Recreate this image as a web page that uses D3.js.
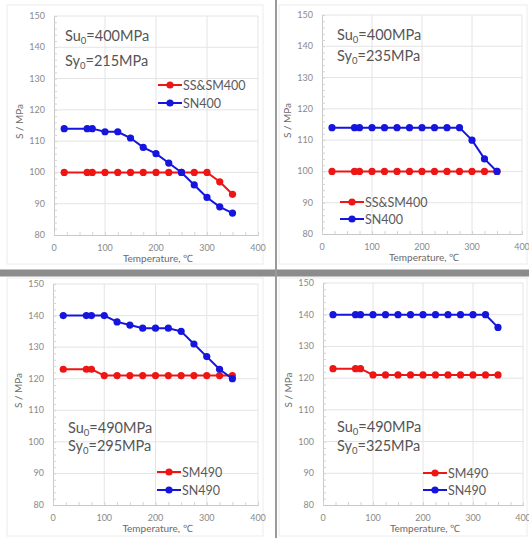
<!DOCTYPE html>
<html>
<head>
<meta charset="utf-8">
<script src="https://cdn.jsdelivr.net/npm/d3@7"></script>
<style>
  body { margin: 0; background: #fff; }
  svg text { font-family: Lato, "Open Sans", sans-serif; }
</style>
</head>
<body>
<div class="chart"></div>
<script>
// canvas size
const WIDTH = 529;
const HEIGHT = 538;

// temperatures (x values) shared by every series
const temps = [20, 65, 75, 100, 125, 150, 175, 200, 225, 250, 275, 300, 325, 350];

// series values, one array per line
const ss400_215 = [100, 100, 100, 100, 100, 100, 100, 100, 100, 100, 100, 100, 97, 93];
const sn400_215 = [114, 114, 114, 113, 113, 111, 108, 106, 103, 100, 96, 92, 89, 87];
const ss400_235 = [100, 100, 100, 100, 100, 100, 100, 100, 100, 100, 100, 100, 100, 100];
const sn400_235 = [114, 114, 114, 114, 114, 114, 114, 114, 114, 114, 114, 110, 104, 100];
const sm490_295 = [123, 123, 123, 121, 121, 121, 121, 121, 121, 121, 121, 121, 121, 121];
const sn490_295 = [140, 140, 140, 140, 138, 137, 136, 136, 136, 135, 131, 127, 123, 120];
const sm490_325 = [123, 123, 123, 121, 121, 121, 121, 121, 121, 121, 121, 121, 121, 121];
const sn490_325 = [140, 140, 140, 140, 140, 140, 140, 140, 140, 140, 140, 140, 140, 136];

// tick labels
const xTicks = [0, 100, 200, 300, 400];
const yTicks = [80, 90, 100, 110, 120, 130, 140, 150];

const RED = "#ee1515";
const BLUE = "#1515dd";

const svg = d3.select(".chart").append("svg")
  .attr("width", WIDTH)
  .attr("height", HEIGHT);

// panel layout: plot box in pixels, legend and note positions
const panels = [
  { x0: 54, x1: 258, yT: 16, yB: 235,
    series: [[ss400_215, RED, "SS&SM400"], [sn400_215, BLUE, "SN400"]],
    su: "400", sy: "215", noteX: 65, noteY: [36, 61],
    legX: 158, legY: [85, 103] },
  { x0: 322, x1: 522, yT: 15, yB: 234,
    series: [[ss400_235, RED, "SS&SM400"], [sn400_235, BLUE, "SN400"]],
    su: "400", sy: "235", noteX: 337, noteY: [35, 56],
    legX: 340, legY: [202, 219] },
  { x0: 53, x1: 258, yT: 284, yB: 505,
    series: [[sm490_295, RED, "SM490"], [sn490_295, BLUE, "SN490"]],
    su: "490", sy: "295", noteX: 68, noteY: [428, 446],
    legX: 157, legY: [472, 490] },
  { x0: 323, x1: 523, yT: 283, yB: 505,
    series: [[sm490_325, RED, "SM490"], [sn490_325, BLUE, "SN490"]],
    su: "490", sy: "325", noteX: 337, noteY: [427, 446],
    legX: 423, legY: [473, 490] }
];

function drawPanel(p) {
  const x = d3.scaleLinear().domain([0, 400]).range([p.x0, p.x1]);
  const y = d3.scaleLinear().domain([80, 150]).range([p.yB, p.yT]);
  const g = svg.append("g");

  // gridlines
  g.selectAll(".hg").data(yTicks.slice(1)).join("line")
    .attr("x1", p.x0).attr("x2", p.x1)
    .attr("y1", d => y(d)).attr("y2", d => y(d))
    .attr("stroke", "#e4e4e4");
  g.selectAll(".vg").data(xTicks.slice(1)).join("line")
    .attr("x1", d => x(d)).attr("x2", d => x(d))
    .attr("y1", p.yT).attr("y2", p.yB)
    .attr("stroke", "#e4e4e4");

  // axes with minor ticks
  const yAx = g.append("g").attr("transform", `translate(${p.x0},0)`)
    .call(d3.axisLeft(y).tickValues(d3.range(80, 151, 2)).tickSize(-3).tickFormat(""));
  const xAx = g.append("g").attr("transform", `translate(0,${p.yB})`)
    .call(d3.axisBottom(x).tickValues(d3.range(0, 401, 25)).tickSize(-3).tickFormat(""));
  [yAx, xAx].forEach(a => {
    a.select(".domain").attr("stroke", "#c8c8c8");
    a.selectAll(".tick line").attr("stroke", "#d4d4d4");
  });

  // tick labels
  g.selectAll(".yl").data(yTicks).join("text")
    .attr("x", p.x0 - 9).attr("y", d => y(d) + 3)
    .attr("text-anchor", "end").attr("font-size", 9).attr("fill", "#8a8a8a")
    .text(d => d);
  g.selectAll(".xl").data(xTicks).join("text")
    .attr("x", d => x(d)).attr("y", p.yB + 16)
    .attr("text-anchor", "middle").attr("font-size", 9).attr("fill", "#8a8a8a")
    .text(d => d);

  // axis titles
  g.append("text")
    .attr("transform", `translate(${p.x0 - 31},${(p.yT + p.yB) / 2 - 4}) rotate(-90)`)
    .attr("text-anchor", "middle").attr("font-size", 10).attr("fill", "#6a6a6a")
    .text("S / MPa");
  g.append("text")
    .attr("x", (p.x0 + p.x1) / 2 + 2).attr("y", p.yB + 27)
    .attr("text-anchor", "middle").attr("font-size", 10).attr("fill", "#6a6a6a")
    .text("Temperature, \u2103");

  // lines and markers
  const line = d3.line().x((d, i) => x(temps[i])).y(d => y(d));
  p.series.forEach(([vals, col]) => {
    g.append("path").datum(vals)
      .attr("d", line).attr("fill", "none")
      .attr("stroke", col).attr("stroke-width", 2);
    g.selectAll(null).data(vals).join("circle")
      .attr("cx", (d, i) => x(temps[i])).attr("cy", d => y(d))
      .attr("r", 3.6).attr("fill", col);
  });

  // legend
  p.series.forEach(([vals, col, name], i) => {
    const ly = p.legY[i];
    g.append("line").attr("x1", p.legX).attr("x2", p.legX + 24)
      .attr("y1", ly).attr("y2", ly).attr("stroke", col).attr("stroke-width", 2);
    g.append("circle").attr("cx", p.legX + 12).attr("cy", ly).attr("r", 3.6).attr("fill", col);
    g.append("text").attr("x", p.legX + 25).attr("y", ly + 4.5)
      .attr("font-size", 12.5).attr("fill", "#5a5a5a").text(name);
  });

  // material note
  [["Su", p.su], ["Sy", p.sy]].forEach(([lab, val], i) => {
    const t = g.append("text").attr("x", p.noteX).attr("y", p.noteY[i] + 5)
      .attr("font-size", 14.5).attr("fill", "#555");
    t.append("tspan").text(lab);
    t.append("tspan").attr("font-size", 9.5).attr("dy", 3).text("0");
    t.append("tspan").attr("dy", -3).text("=" + val + "MPa");
  });
}

// faint frames around each chart
[[7, 5, 256, 259], [279, 5, 248, 259], [7, 278, 256, 258], [279, 278, 248, 258]].forEach(r => {
  svg.append("rect").attr("x", r[0]).attr("y", r[1]).attr("width", r[2]).attr("height", r[3])
    .attr("fill", "none").attr("stroke", "#ececec");
});

panels.forEach(drawPanel);

// separators between the four charts
svg.append("rect").attr("x", 0).attr("y", 270).attr("width", WIDTH).attr("height", 6)
  .attr("fill", "#8c8c8c");
svg.append("rect").attr("x", 0).attr("y", 269).attr("width", WIDTH).attr("height", 1)
  .attr("fill", "#c4c4c4");
svg.append("rect").attr("x", 0).attr("y", 276).attr("width", WIDTH).attr("height", 1)
  .attr("fill", "#c4c4c4");
svg.append("rect").attr("x", 275).attr("y", 0).attr("width", 2).attr("height", HEIGHT)
  .attr("fill", "#9a9a9a");
</script>
</body>
</html>
